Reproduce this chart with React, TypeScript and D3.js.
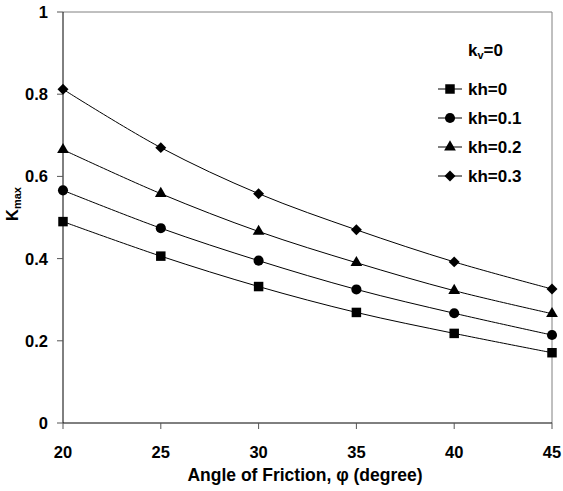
import React from "react";
import * as d3 from "d3";

const angles = [20, 25, 30, 35, 40, 45];
const seriesNames = ["kh=0", "kh=0.1", "kh=0.2", "kh=0.3"];
const kh0 = [0.49, 0.406, 0.332, 0.269, 0.218, 0.171];
const kh01 = [0.566, 0.474, 0.395, 0.325, 0.267, 0.214];
const kh02 = [0.665, 0.558, 0.466, 0.39, 0.322, 0.266];
const kh03 = [0.812, 0.67, 0.558, 0.47, 0.392, 0.326];
const seriesValues = [kh0, kh01, kh02, kh03];
const symbolTypes = [d3.symbolSquare, d3.symbolCircle, d3.symbolTriangle, d3.symbolSquare];
const symbolSizes = [90, 80, 60, 60];
const symbolRot = [0, 0, 0, 45];
const xTicks = [20, 25, 30, 35, 40, 45];
const yTicks = [0, 0.2, 0.4, 0.6, 0.8, 1];

const W = 563;
const H = 491;
const L = 63, R = 552, T = 12, B = 423;
const FONT = "'Liberation Sans', Arial, sans-serif";

export default function App() {
  const x = d3.scaleLinear().domain([20, 45]).range([L, R]);
  const y = d3.scaleLinear().domain([0, 1]).range([B, T]);
  const line = d3
    .line<number>()
    .x((_, i) => x(angles[i]))
    .y((d) => y(d))
    .curve(d3.curveCatmullRom.alpha(0.5));

  const legendY = [89, 118, 147, 176];
  const sym = (si: number) => d3.symbol().type(symbolTypes[si]).size(symbolSizes[si])() || "";

  return (
    <svg width={W} height={H} style={{ position: "absolute", left: 0, top: 0 }} fontFamily={FONT}>
      <rect x={0} y={0} width={W} height={H} fill="#fff" />
      {/* frame */}
      <line x1={L} y1={T} x2={R} y2={T} stroke="#808080" strokeWidth={1} />
      <line x1={R} y1={T} x2={R} y2={B} stroke="#808080" strokeWidth={1} />
      <line x1={L} y1={T} x2={L} y2={B} stroke="#000" strokeWidth={1} />
      <line x1={L} y1={B} x2={R} y2={B} stroke="#000" strokeWidth={1} />
      {/* y ticks */}
      {yTicks.map((t) => (
        <g key={"y" + t}>
          <line x1={L - 6} x2={L} y1={y(t)} y2={y(t)} stroke="#555" />
          <text x={48} y={y(t) + 6} textAnchor="end" fontSize={16.5} fontWeight="bold">
            {t === 0 || t === 1 ? String(t) : t.toFixed(1)}
          </text>
        </g>
      ))}
      {/* x ticks */}
      {xTicks.map((t) => (
        <g key={"x" + t}>
          <line x1={x(t)} x2={x(t)} y1={B} y2={B + 6} stroke="#555" />
          <text x={x(t)} y={458} textAnchor="middle" fontSize={16.5} fontWeight="bold">
            {t}
          </text>
        </g>
      ))}
      {/* axis titles */}
      <text x={305} y={481} textAnchor="middle" fontSize={17.5} fontWeight="bold">
        Angle of Friction, φ (degree)
      </text>
      <text transform="translate(18,204) rotate(-90)" textAnchor="middle" fontSize={16.5} fontWeight="bold">
        K<tspan fontSize={11} dy={3}>max</tspan>
      </text>
      {/* series */}
      {seriesValues.map((vals, si) => (
        <g key={"s" + si}>
          <path d={line(vals) || ""} fill="none" stroke="#000" strokeWidth={1} />
          {vals.map((v, i) => (
            <path
              key={i}
              d={sym(si)}
              transform={`translate(${x(angles[i])},${y(v)}) rotate(${symbolRot[si]})`}
              fill="#000"
            />
          ))}
        </g>
      ))}
      {/* legend */}
      <text x={468} y={56} fontSize={17} fontWeight="bold">
        k<tspan fontSize={11} dy={3}>v</tspan>
        <tspan dy={-3}>=0</tspan>
      </text>
      {seriesNames.map((name, si) => (
        <g key={"l" + si}>
          <line x1={438} x2={462} y1={legendY[si]} y2={legendY[si]} stroke="#000" strokeWidth={1} />
          <path
            d={sym(si)}
            transform={`translate(450,${legendY[si]}) rotate(${symbolRot[si]})`}
            fill="#000"
          />
          <text x={468} y={legendY[si] + 6} fontSize={17} fontWeight="bold">
            {name}
          </text>
        </g>
      ))}
    </svg>
  );
}
